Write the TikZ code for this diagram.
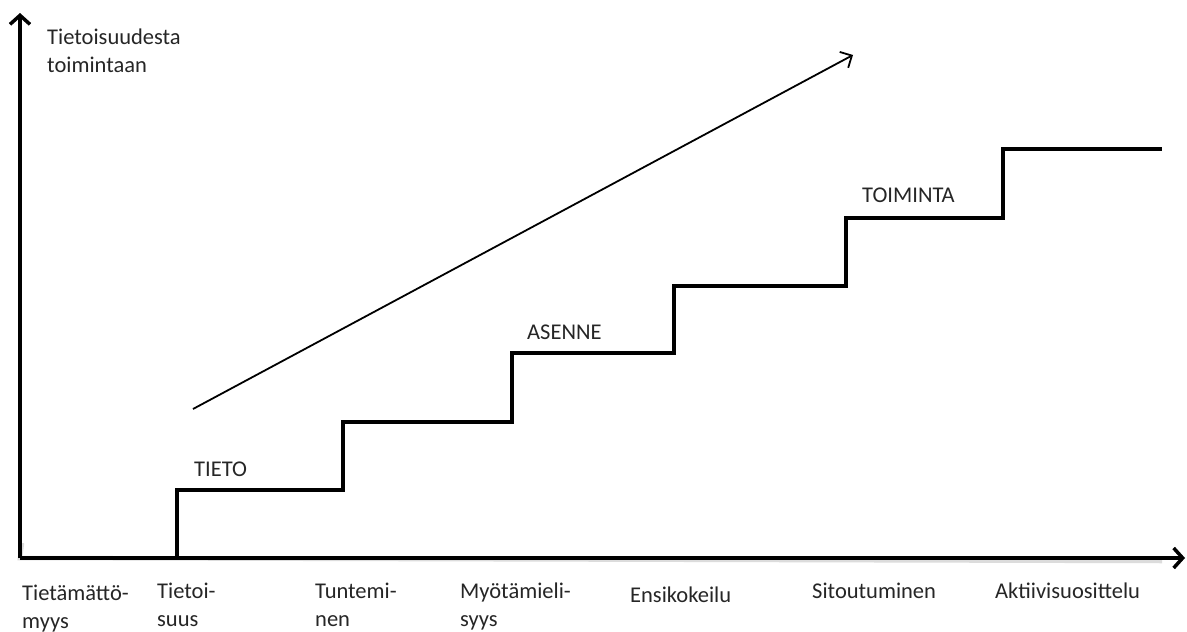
\documentclass[tikz,border=0pt]{standalone}
\usepackage{fontspec}
\setmainfont{Carlito}
\usetikzlibrary{arrows.meta}
\begin{document}
\begin{tikzpicture}[x=1pt,y=-1pt,
  lbl/.style={inner sep=0pt, anchor=base west, text=black!85,
    font=\fontsize{22.5}{28}\selectfont, align=left},
  thickline/.style={line width=4pt, line join=miter, draw=black},
  shadowline/.style={line width=4.5pt, draw=black!30, opacity=0.45},
  axisarrow/.style={-{Straight Barb[length=9pt,width=20pt,line width=3.5pt]}},
  trendarrow/.style={line width=1.8pt, -{Straight Barb[length=9pt,width=18pt,line width=1.8pt]}}]
\useasboundingbox (0,0) rectangle (1187,632);
\fill[white] (0,0) rectangle (1187,632);

% coordinates
\coordinate (o) at (20,558);
\coordinate (ytip) at (20,13);
\coordinate (xtip) at (1185,558);
\coordinate (s0) at (177,558);
\coordinate (s1) at (177,490);
\coordinate (s2) at (343,490);
\coordinate (s3) at (343,422);
\coordinate (s4) at (512,422);
\coordinate (s5) at (512,353);
\coordinate (s6) at (674,353);
\coordinate (s7) at (674,286);
\coordinate (s8) at (846,286);
\coordinate (s9) at (846,218);
\coordinate (s10) at (1003,218);
\coordinate (s11) at (1003,149);
\coordinate (s12) at (1162,149);
\coordinate (ta) at (193,409);
\coordinate (tb) at (853,55);

% shadows
\begin{scope}[shift={(2,3)}]
  \draw[shadowline] (20,540) -- (o) -- (1160,558);
  \draw[shadowline] (s0) -- (s1) -- (s2) -- (s3) -- (s4) -- (s5) -- (s6) -- (s7) -- (s8) -- (s9) -- (s10) -- (s11) -- (s12);
\end{scope}

% axes
\draw[thickline, axisarrow] (o) -- (ytip);
\draw[thickline, axisarrow] (o) -- (xtip);

% staircase
\draw[thickline] (s0) -- (s1) -- (s2) -- (s3) -- (s4) -- (s5) -- (s6) -- (s7) -- (s8) -- (s9) -- (s10) -- (s11) -- (s12);

% trend arrow
\draw[trendarrow] (ta) -- (tb);

% labels (base anchor of a two-line node = baseline of its last line)
\node[lbl] (ylab) at (47,72) {Tietoisuudesta\\toimintaan};
\node[lbl] (tieto) at (194,476) {TIETO};
\node[lbl] (asenne) at (527,339) {ASENNE};
\node[lbl] (toiminta) at (862,202) {TOIMINTA};

\node[lbl] (l1) at (22,628) {Tietämättö-\\myys};
\node[lbl] (l2) at (157,626) {Tietoi-\\suus};
\node[lbl] (l3) at (315,626) {Tuntemi-\\nen};
\node[lbl] (l4) at (460,626) {Myötämieli-\\syys};
\node[lbl] (l5) at (630,602) {Ensikokeilu};
\node[lbl] (l6) at (812,598) {Sitoutuminen};
\node[lbl] (l7) at (995,598) {Aktiivisuosittelu};
\end{tikzpicture}
\end{document}
